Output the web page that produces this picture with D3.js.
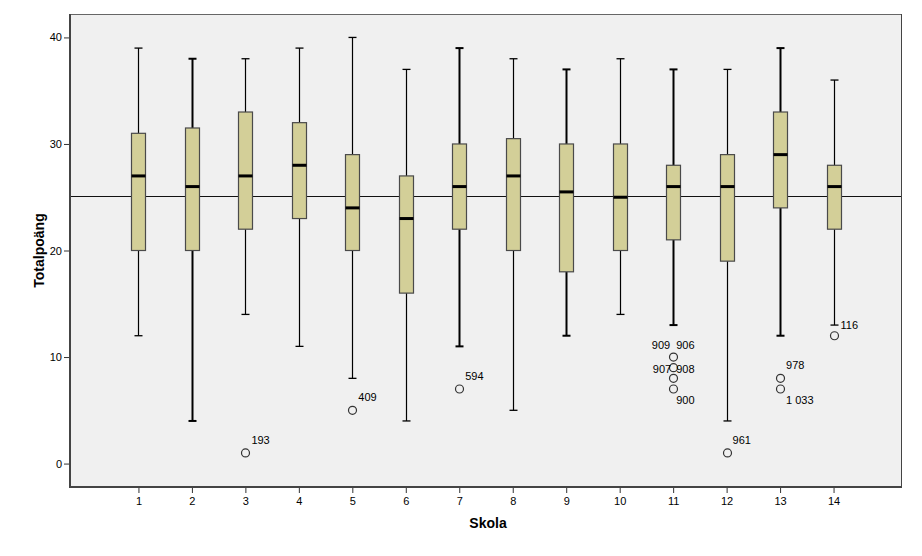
<!DOCTYPE html>
<html><head><meta charset="utf-8">
<script src="https://cdn.jsdelivr.net/npm/d3@7"></script>
<style>body{margin:0;background:#fff}svg{display:block}text{font-family:"Liberation Sans",Arial,sans-serif}</style>
</head><body><svg id="c" width="922" height="556"></svg>
<script>
const schools = [1,2,3,4,5,6,7,8,9,10,11,12,13,14];
const whiskerLow  = [12, 4,14,11, 8, 4,11, 5,12,14,13, 4,12,13];
const q1          = [20,20,22,23,20,16,22,20,18,20,21,19,24,22];
const medians     = [27,26,27,28,24,23,26,27,25.5,25,26,26,29,26];
const q3          = [31,31.5,33,32,29,27,30,30.5,30,30,28,29,33,28];
const whiskerHigh = [39,38,38,39,40,37,39,38,37,38,37,37,39,36];
const outlierSchool = [3,5,7,11,11,11,11,12,13,13,14];
const outlierValue  = [1,5,7,10,9,8,7,1,8,7,12];
const labelSchool = [3,5,7,11,11,11,11,11,12,13,13,14];
const labelValue  = [1,5,7,10,10,9,9,7,1,8,7,12];
const labelText   = ["193","409","594","909","906","907","908","900","961","978","1 033","116"];
const refValue = 25.1;
const yTicks = [0,10,20,30,40];
const heavy = new Set([2,7,9,11,13]);

const svg = d3.select("#c");
const L=70,R=902,T=14,B=487;
const x = d3.scalePoint().domain(schools).range([L,R]).padding(1.28);
const y = d3.scaleLinear().domain([-2.2,42.2]).range([B,T]);

svg.append("rect").attr("x",L).attr("y",T).attr("width",R-L).attr("height",B-T).attr("fill","#f0f0f0");

// reference line
const ry = Math.round(y(refValue))+0.5;
svg.append("line").attr("x1",L).attr("x2",R).attr("y1",ry).attr("y2",ry).attr("stroke","#111").attr("stroke-width",1).attr("shape-rendering","crispEdges");

const bw=14, cw=8;
const g = svg.append("g");
schools.forEach((s,i)=>{
  const cx = Math.round(x(s))+0.5;
  const sw = heavy.has(s)?2:1.2;
  g.append("line").attr("x1",cx).attr("x2",cx).attr("y1",y(whiskerHigh[i])).attr("y2",y(q3[i])).attr("stroke","#000").attr("stroke-width",sw);
  g.append("line").attr("x1",cx).attr("x2",cx).attr("y1",y(q1[i])).attr("y2",y(whiskerLow[i])).attr("stroke","#000").attr("stroke-width",sw);
  [whiskerHigh[i],whiskerLow[i]].forEach(v=>{
    g.append("line").attr("x1",cx-cw/2).attr("x2",cx+cw/2).attr("y1",y(v)).attr("y2",y(v)).attr("stroke","#000").attr("stroke-width",heavy.has(s)?2:1.3);
  });
  g.append("rect").attr("x",cx-bw/2).attr("y",y(q3[i])).attr("width",bw).attr("height",y(q1[i])-y(q3[i]))
    .attr("fill","#d3cf98").attr("stroke","#4a4a4a").attr("stroke-width",1.2);
  g.append("line").attr("x1",cx-bw/2).attr("x2",cx+bw/2).attr("y1",y(medians[i])).attr("y2",y(medians[i])).attr("stroke","#000").attr("stroke-width",3);
});

outlierSchool.forEach((s,i)=>{
  g.append("circle").attr("cx",Math.round(x(s))+0.5).attr("cy",y(outlierValue[i])).attr("r",4)
    .attr("fill","none").attr("stroke","#333").attr("stroke-width",1.2);
});

// label offsets (dx, dy, anchor)
const off = {
 "193":[6,-9,"start"],"409":[6,-9,"start"],"594":[6,-9,"start"],"961":[6,-9,"start"],"978":[6,-9,"start"],
 "909":[-3,-8,"end"],"906":[3,-8,"start"],"907":[-2,5,"end"],"908":[3,5,"start"],"900":[3,15,"start"],
 "1 033":[6,15,"start"],"116":[7,-7,"start"]
};
labelSchool.forEach((s,i)=>{
  const o=off[labelText[i]];
  g.append("text").attr("x",x(s)+o[0]).attr("y",y(labelValue[i])+o[1]).attr("text-anchor",o[2])
    .attr("font-size",11).attr("fill","#000").text(labelText[i]);
});

// frame
svg.append("line").attr("x1",L).attr("x2",R).attr("y1",T+0.5).attr("y2",T+0.5).attr("stroke","#666").attr("stroke-width",1);
svg.append("line").attr("x1",R-0.5).attr("x2",R-0.5).attr("y1",T).attr("y2",B).attr("stroke","#444").attr("stroke-width",1);

// axes
const ya = svg.append("g").attr("transform",`translate(${L},0)`)
  .call(d3.axisLeft(y).tickValues(yTicks).tickSize(6).tickPadding(2).tickFormat(d3.format("d")));
ya.select(".domain").remove();
ya.append("line").attr("x1",0).attr("x2",0).attr("y1",T).attr("y2",B+1).attr("stroke","#444").attr("stroke-width",2);
ya.selectAll(".tick line").attr("stroke","#333");
ya.selectAll("text").attr("font-size",11).attr("fill","#000").attr("font-family","Liberation Sans, Arial, sans-serif");

const xa = svg.append("g").attr("transform",`translate(0,${B})`)
  .call(d3.axisBottom(x).tickSize(6).tickPadding(4));
xa.select(".domain").remove();
xa.append("line").attr("x1",L-1).attr("x2",R).attr("y1",0).attr("y2",0).attr("stroke","#444").attr("stroke-width",2);
xa.selectAll(".tick line").attr("stroke","#333");
xa.selectAll("text").attr("font-size",11).attr("fill","#000").attr("font-family","Liberation Sans, Arial, sans-serif");

svg.append("text").attr("transform",`translate(44,${(T+B)/2}) rotate(-90)`).attr("text-anchor","middle")
  .attr("font-size",14).attr("font-weight","bold").text("Totalpoäng");
svg.append("text").attr("x",(L+R)/2+2).attr("y",528).attr("text-anchor","middle")
  .attr("font-size",14).attr("font-weight","bold").text("Skola");
</script></body></html>
